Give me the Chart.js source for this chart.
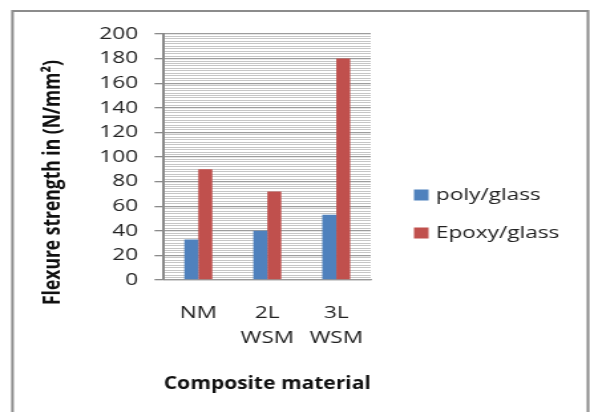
<!DOCTYPE html>
<html>
<head>
<meta charset="utf-8">
<script src="https://cdn.jsdelivr.net/npm/chart.js@4.4.1/dist/chart.umd.min.js"></script>
<style>
  html, body { margin: 0; padding: 0; background: #fff; overflow: hidden; }
  #wrap { width: 444px; height: 412px; transform: scaleX(1.3288); transform-origin: 0 0; }
  canvas { display: block; }
</style>
</head>
<body>
<div id="wrap"><canvas id="c" width="444" height="412"></canvas></div>
<script>
// Flexural strength of composite laminates
const categories = ['NM', ['2L', 'WSM'], ['3L', 'WSM']];
const seriesNames = ['poly/glass', 'Epoxy/glass'];
const polyGlass = [33, 40, 53];
const epoxyGlass = [90, 72, 180];
const seriesColors = ['#4F81BD', '#C0504D'];
const yTitle = 'Flexure strength in (N/mm\u00B2)';
const xTitle = 'Composite material';

const FONT = '"Open Sans", "DejaVu Sans", sans-serif';
const isMajor = v => Math.round(v) % 20 === 0;

// outer frame, rotated value-axis title and the side legend
const decor = {
  id: 'decor',
  beforeDraw(chart) {
    const ctx = chart.ctx;
    ctx.save();
    ctx.fillStyle = '#fff';
    ctx.fillRect(0, 0, chart.width, chart.height);
    ctx.restore();
  },
  afterDraw(chart) {
    const ctx = chart.ctx;
    ctx.save();
    ctx.strokeStyle = '#8c8c8c';
    ctx.lineWidth = 2;
    ctx.strokeRect(9.4, 11, 433.1, 420);

    ctx.translate(40.3, 182.5);
    ctx.rotate(-Math.PI / 2);
    ctx.fillStyle = '#111';
    ctx.font = 'bold 17.5px ' + FONT;
    ctx.textAlign = 'center';
    ctx.textBaseline = 'middle';
    ctx.fillText(yTitle, 0, 0);
    ctx.restore();

    ctx.save();
    const rows = [195, 233];
    chart.data.datasets.forEach((ds, i) => {
      ctx.fillStyle = ds.backgroundColor;
      ctx.fillRect(311.5, rows[i] - 5.5, 11, 11);
      ctx.fillStyle = '#222';
      ctx.font = '17px ' + FONT;
      ctx.textAlign = 'left';
      ctx.textBaseline = 'middle';
      ctx.fillText(ds.label, 328, rows[i]);
    });
    ctx.restore();
  }
};

new Chart(document.getElementById('c'), {
  type: 'bar',
  data: {
    labels: categories,
    datasets: [
      { label: seriesNames[0], data: polyGlass, backgroundColor: seriesColors[0] },
      { label: seriesNames[1], data: epoxyGlass, backgroundColor: seriesColors[1] }
    ]
  },
  options: {
    responsive: false,
    animation: false,
    devicePixelRatio: 1,
    layout: { padding: { left: 0, top: 34, right: 165, bottom: 17.5 } },
    datasets: { bar: { categoryPercentage: 0.405, barPercentage: 1 } },
    plugins: { legend: { display: false }, tooltip: { enabled: false } },
    scales: {
      x: {
        grid: { display: false, drawTicks: false },
        border: { display: true, color: '#9a9a9a', width: 1.3 },
        ticks: {
          color: '#222', padding: 20, maxRotation: 0, autoSkip: false,
          font: { family: FONT, size: 17, lineHeight: 1.5 }
        },
        title: {
          display: true, text: xTitle, color: '#111',
          font: { family: FONT, size: 18.5, weight: 'bold', lineHeight: 1.2 },
          padding: { top: 0, bottom: 0 }
        },
        afterFit(scale) { scale.height = 114.5; }
      },
      y: {
        min: 0, max: 200,
        border: { display: true, color: '#8a8a8a', width: 2 },
        grid: {
          color: c => (c.tick && isMajor(c.tick.value)) ? '#9c9c9c' : '#c6c6c6',
          lineWidth: c => (c.tick && isMajor(c.tick.value)) ? 1.3 : 1,
          tickColor: c => (c.tick && isMajor(c.tick.value)) ? '#8a8a8a' : 'rgba(0,0,0,0)',
          tickLength: 7,
          drawTicks: true
        },
        ticks: {
          stepSize: 2, maxTicksLimit: 200, autoSkip: false,
          color: '#222', padding: 12.3,
          font: { family: FONT, size: 17 },
          callback: v => isMajor(v) ? String(v) : ''
        },
        afterFit(scale) { scale.width = 123.3; }
      }
    }
  },
  plugins: [decor]
});
</script>
</body>
</html>
